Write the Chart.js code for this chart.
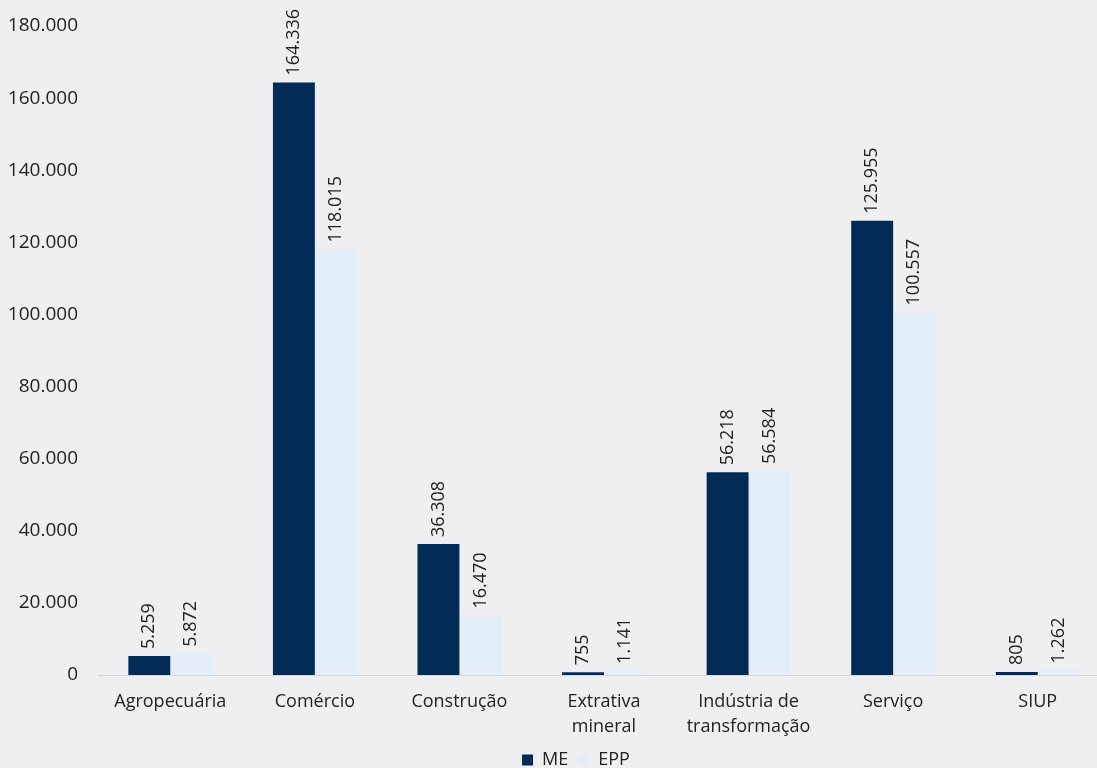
<!DOCTYPE html>
<html lang="pt-BR">
<head>
<meta charset="UTF-8">
<title>ME x EPP por setor</title>
<script src="https://cdn.jsdelivr.net/npm/chart.js"></script>
<style>
  html, body { margin: 0; padding: 0; background: #efeff2; overflow: hidden; }
</style>
</head>
<body>
<canvas id="setorChart" width="1110" height="779"></canvas>
<script>
const categories = ['Agropecuária', 'Comércio', 'Construção', ['Extrativa', 'mineral'], ['Indústria de', 'transformação'], 'Serviço', 'SIUP'];
const meValues = [5259, 164336, 36308, 755, 56218, 125955, 805];
const eppValues = [5872, 118015, 16470, 1141, 56584, 100557, 1262];
const yTicks = [0, 20000, 40000, 60000, 80000, 100000, 120000, 140000, 160000, 180000];

function fmt(v) {
    return String(v).replace(/\B(?=(\d{3})+(?!\d))/g, '.');
}

const FONT = '"Open Sans", sans-serif';

// rotated value labels above each bar
const barLabels = {
    id: 'barLabels',
    afterLayout(chart) {
        // legend sits a bit right of centre in the original
        chart.legend.left += 18;
        chart.legend.right += 18;
    },
    afterDatasetsDraw(chart) {
        const ctx = chart.ctx;
        ctx.save();
        ctx.font = '18px ' + FONT;
        ctx.fillStyle = '#222';
        ctx.textAlign = 'left';
        ctx.textBaseline = 'middle';
        chart.data.datasets.forEach((ds, i) => {
            chart.getDatasetMeta(i).data.forEach((bar, j) => {
                ctx.save();
                ctx.translate(bar.x, bar.y - 7);
                ctx.rotate(-Math.PI / 2);
                ctx.fillText(fmt(ds.data[j]), 0, 0);
                ctx.restore();
            });
        });
        ctx.restore();
    }
};

new Chart(document.getElementById('setorChart'), {
    type: 'bar',
    data: {
        labels: categories,
        datasets: [
            { label: 'ME', data: meValues, backgroundColor: '#022b57', barPercentage: 1, categoryPercentage: 0.58 },
            { label: 'EPP', data: eppValues, backgroundColor: '#e3eef8', barPercentage: 1, categoryPercentage: 0.58 }
        ]
    },
    options: {
        responsive: false,
        animation: false,
        layout: { padding: { top: 26, left: 6, right: 0, bottom: 0 } },
        plugins: {
            tooltip: { enabled: false },
            legend: {
                position: 'bottom',
                labels: {
                    boxWidth: 11, boxHeight: 11, padding: 10,
                    color: '#222', font: { family: FONT, size: 18 }
                }
            }
        },
        scales: {
            x: {
                grid: { display: false },
                border: { color: '#d6d6d8', width: 1 },
                ticks: { color: '#222', font: { family: FONT, size: 18, lineHeight: 1.4 }, padding: 6, maxRotation: 0 },
                afterFit: axis => { axis.height = 66; }
            },
            y: {
                min: 0, max: 180000,
                afterBuildTicks: axis => { axis.ticks = yTicks.map(v => ({ value: v })); },
                grid: { display: false },
                border: { display: false },
                ticks: { color: '#222', font: { family: FONT, size: 19 }, padding: 12, callback: v => fmt(v) },
                afterFit: axis => { axis.width = 92; axis.paddingTop = 0; axis.paddingBottom = 0; }
            }
        }
    },
    plugins: [barLabels]
});
</script>
</body>
</html>
